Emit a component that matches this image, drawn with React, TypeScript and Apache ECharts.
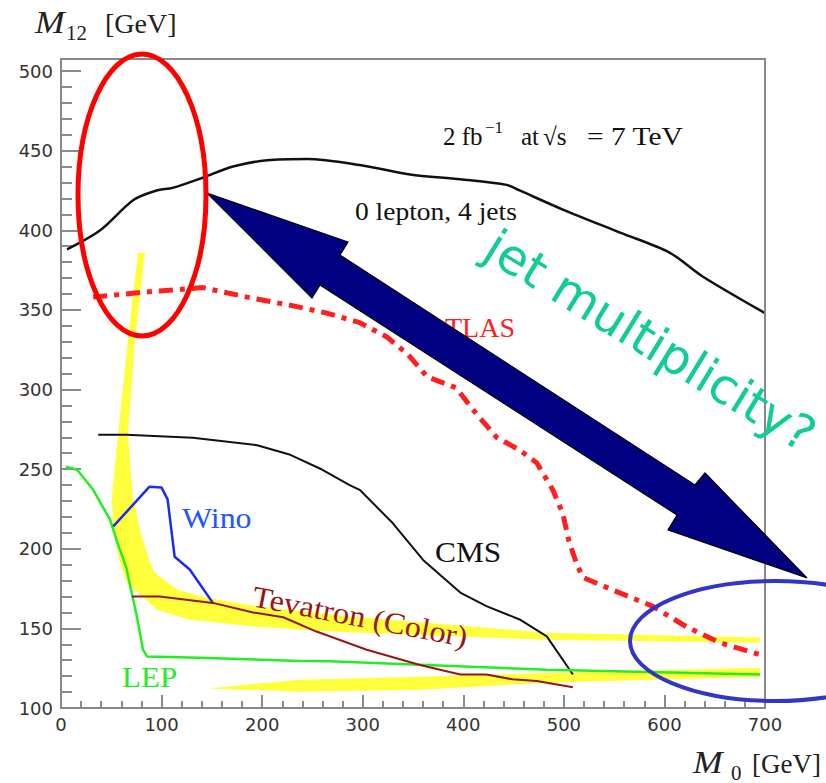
import React, { useEffect, useRef } from 'react';
import * as echarts from 'echarts';

// ---- data (M0 [GeV], M12 [GeV]) ----
const zeroLepton4Jets: number[][] = [
  [6, 388], [39, 400], [72, 419], [95, 425], [111, 426.6], [141, 433], [171, 440], [205, 444],
  [245, 444.8], [297, 441], [347, 435], [397, 432], [443, 428.5], [456, 425], [499, 413],
  [556, 398.5], [605, 386], [638, 371], [700, 348],
];
const atlas: number[][] = [
  [32, 358], [81, 361], [141, 364], [185, 358], [231, 352.5], [264, 348], [297, 342], [324, 333],
  [345, 322], [364, 308], [393, 301], [410, 287], [433, 270], [456, 262], [473, 254], [489, 237],
  [499, 222], [505, 205], [513, 190], [519, 182], [549, 174], [588, 164], [622, 151], [655, 141],
  [695, 133.5],
];
const cms: number[][] = [
  [37, 271.6], [65, 271.6], [131, 269.7], [195, 265], [228, 259], [260, 249.6], [287, 240],
  [297, 237], [330, 216], [360, 193], [397, 172.5], [423, 164], [456, 155.6], [483, 145], [509, 121],
];
const lep: number[][] = [
  [5, 251.5], [16, 249.6], [32, 237], [49, 218], [56, 204], [65, 188], [69, 176], [75.5, 157.5],
  [81.5, 136.6], [85.5, 132.4], [138, 131.6], [238, 129.5], [267, 129.3], [483, 124], [695, 121],
];
const wino: number[][] = [
  [52, 214], [88, 239], [100, 238.4], [106, 231], [113, 195], [128, 187], [151, 166],
];
const tevatron: number[][] = [
  [70.5, 170], [98, 170], [151, 166], [191, 160], [221, 157], [254, 148], [304, 136.6], [357, 127],
  [397, 121], [423, 121], [449, 118], [473, 117], [509, 113],
];
const bandUpper: number[][] = [
  [83.5, 385.9], [73.6, 331.3], [66.6, 271.6], [71.6, 232.7], [78.5, 212], [88.5, 191.3],
  [93.4, 185], [115.3, 174.4], [145, 169.3], [195, 163.7], [287, 157.4], [483, 147.3], [695, 144.2],
  [695, 141], [483, 142.9], [267, 148], [195, 151], [128, 155.4], [95.4, 161.7], [65.6, 178.7],
  [58.6, 191.3], [51.7, 212], [50.7, 232.7], [56.7, 271.6], [66.6, 331.3], [76.5, 385.9],
];
const bandLower: number[][] = [
  [146, 112.3], [237.6, 117.8], [357, 119.7], [483, 122], [695, 125.3],
  [695, 119.6], [483, 115.9], [357, 111.5], [237.6, 110.2],
];
const bands = [bandUpper, bandLower];

const SERIF = '"Liberation Serif", "Times New Roman", serif';

function txt(x: number, baseline: number, text: string, size: number, color: string, o: any = {}) {
  return {
    type: 'text',
    x,
    y: baseline,
    z: o.z ?? 10,
    rotation: o.rotation ?? 0,
    scaleX: o.scaleX ?? 1,
    silent: true,
    style: {
      x: 0,
      y: -0.34 * size,
      text,
      fill: color,
      fontSize: size,
      fontFamily: o.family ?? SERIF,
      fontStyle: o.italic ? 'italic' : 'normal',
      align: o.align ?? 'left',
      verticalAlign: 'middle',
    },
  };
}

export default function App() {
  const ref = useRef<HTMLDivElement>(null);
  useEffect(() => {
    if (!ref.current) return;
    const chart = echarts.init(ref.current, undefined, { renderer: 'svg' });
    const line = (data: number[][], color: string, width: number, extra: any = {}) => ({
      type: 'line',
      data,
      showSymbol: false,
      symbol: 'none',
      silent: true,
      z: 3,
      lineStyle: { color, width, ...extra },
      ...(extra.smooth ? { smooth: extra.smooth } : {}),
    });
    const arrowPts = [
      [207, 193], [348, 242], [340, 255], [695, 485], [705, 473], [807, 578],
      [668, 530], [677, 515], [320, 285], [312, 298],
    ];
    chart.setOption({
      animation: false,
      grid: { left: 61, right: 61, top: 71, bottom: 75 },
      xAxis: {
        type: 'value', min: 0, max: 700, interval: 100,
        axisLine: { show: true, lineStyle: { color: '#888', width: 2 } },
        axisTick: { show: true, inside: true, length: 13, lineStyle: { color: '#666', width: 1.5 } },
        minorTick: { show: true, splitNumber: 5, length: 7, lineStyle: { color: '#666', width: 1.5 } },
        axisLabel: { color: '#333', fontFamily: 'DejaVu Sans', fontSize: 18, margin: 7 },
        splitLine: { show: false },
      },
      yAxis: {
        type: 'value', min: 100, max: 500, interval: 50,
        axisLine: { show: true, lineStyle: { color: '#888', width: 2 } },
        axisTick: { show: true, inside: true, length: 20, lineStyle: { color: '#666', width: 1.5 } },
        minorTick: { show: true, splitNumber: 5, length: 11, lineStyle: { color: '#666', width: 1.5 } },
        axisLabel: { color: '#333', fontFamily: 'DejaVu Sans', fontSize: 18, margin: 8 },
        splitLine: { show: false },
      },
      series: [
        {
          type: 'custom',
          silent: true,
          z: 1,
          clip: true,
          data: bands.map((b) => b[0]),
          renderItem: (params: any, api: any) => {
            const band = bands[params.dataIndex];
            return {
              type: 'polygon',
              shape: { points: band.map((p) => api.coord(p)) },
              style: { fill: '#ffff3c', stroke: 'none' },
            };
          },
        },
        line(zeroLepton4Jets, '#111', 2.5, { smooth: 0.3 }),
        line(atlas, '#ff1f1f', 5, { type: [14, 7, 5, 7] }),
        line(cms, '#111', 2),
        line(lep, '#22ee22', 2.5),
        line(wino, '#1a2cf0', 2.5),
        line(tevatron, '#9a1414', 2),
      ],
      graphic: [
        { type: 'rect', z: 5, silent: true, shape: { x: 61, y: 59, width: 704, height: 649 }, style: { fill: 'none', stroke: '#888', lineWidth: 2 } },
        // axis titles
        txt(35, 33, 'M', 31, '#222', { italic: true, scaleX: 1.15 }),
        txt(66, 40, '12', 20, '#222', { scaleX: 1.05 }),
        txt(105, 33, '[GeV]', 28, '#222'),
        txt(693, 773, 'M', 31, '#222', { italic: true, scaleX: 1.15 }),
        txt(731, 780, '0', 20, '#222', { scaleX: 1.05 }),
        txt(752, 773, '[GeV]', 27, '#222'),
        // annotations in plot
        txt(443, 145, '2 fb', 25, '#111'),
        txt(485, 133, '−1', 17, '#111'),
        txt(521, 145, 'at', 25, '#111'),
        txt(543, 145, '√s', 25, '#111'),
        txt(587, 145, '= 7 TeV', 25, '#111', { scaleX: 1.18 }),
        txt(355, 220, '0 lepton, 4 jets', 25, '#111', { scaleX: 1.1 }),
        txt(515, 337, 'ATLAS', 28, '#ff2020', { align: 'right' }),
        txt(435, 562, 'CMS', 29, '#111', { scaleX: 1.08 }),
        txt(182, 528, 'Wino', 29, '#2255ff', { scaleX: 1.1 }),
        txt(122, 687, 'LEP', 29, '#22ee22', { scaleX: 1.07 }),
        txt(251, 606, 'Tevatron (Color)', 30, '#9a1414', { rotation: -0.19, scaleX: 1.08 }),
        // arrow
        {
          type: 'polygon', z: 20, silent: true,
          shape: { points: arrowPts },
          style: { fill: '#000080', stroke: '#000', lineWidth: 1.2 },
        },
        // ellipses
        { type: 'ellipse', z: 30, silent: true, shape: { cx: 142, cy: 195, rx: 64, ry: 141 }, style: { fill: 'none', stroke: '#ff0000', lineWidth: 5 } },
        { type: 'ellipse', z: 30, silent: true, shape: { cx: 775, cy: 641, rx: 145, ry: 60 }, style: { fill: 'none', stroke: '#3434c8', lineWidth: 4 } },
        // handwritten question
        {
          type: 'text', z: 40, x: 650, y: 341, rotation: -31.5 * Math.PI / 180, silent: true,
          style: { x: 0, y: 0, text: 'jet multiplicity?', fill: '#11cc99', fontSize: 49, fontFamily: '"DejaVu Sans", Verdana, sans-serif', align: 'center', verticalAlign: 'middle' },
        },
      ],
    });
    return () => chart.dispose();
  }, []);
  return <div ref={ref} style={{ position: 'fixed', left: 0, top: 0, width: 826, height: 783, background: '#fff' }} />;
}
